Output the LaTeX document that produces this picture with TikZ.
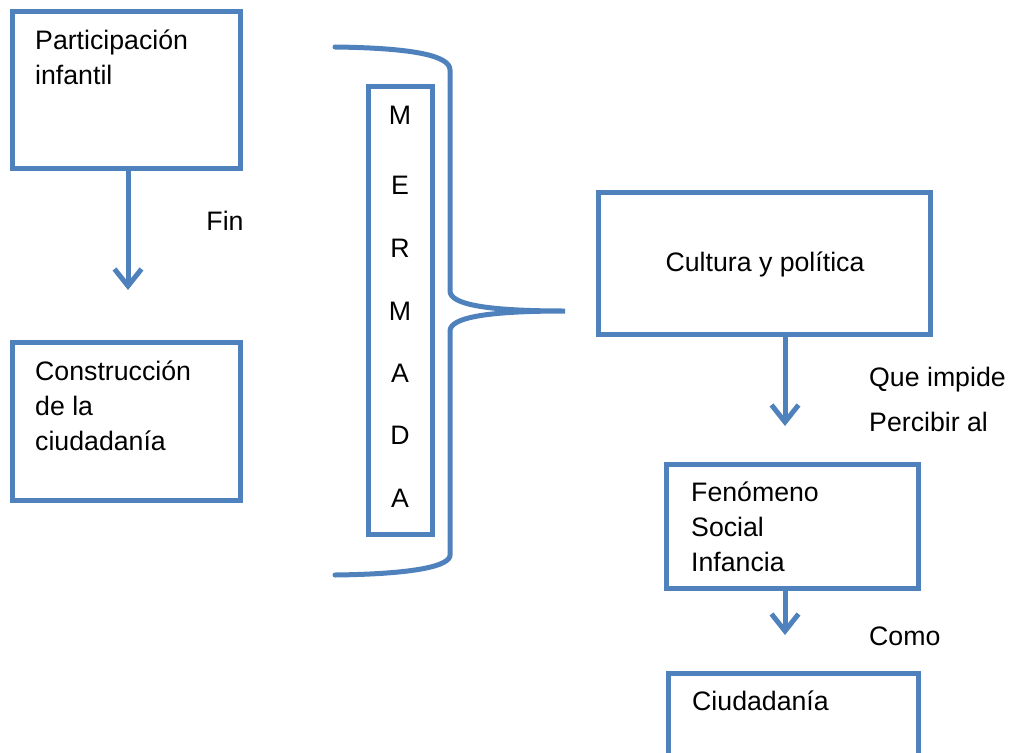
\documentclass[tikz,border=0pt]{standalone}
\usepackage{fontspec}
\setmainfont{Liberation Sans}
\usetikzlibrary{arrows.meta}
\definecolor{boxblue}{HTML}{4F81BD}
\begin{document}
\begin{tikzpicture}[x=1pt,y=-1pt,
  box/.style={draw=boxblue,line width=5pt},
  conn/.style={draw=boxblue,line width=5pt,-{Straight Barb[length=17pt,width=27pt,line width=5pt]}},
  txt/.style={anchor=base west,inner sep=0pt,font=\fontsize{26.7}{34}\selectfont},
  ctxt/.style={anchor=base,inner sep=0pt,font=\fontsize{26.7}{34}\selectfont}]
\useasboundingbox (0,0) rectangle (1011,752);
% boxes
\draw[box] (12,12) rectangle (240,168);
\node[inner sep=0pt,minimum width=228pt,minimum height=156pt] (pi) at (126,90) {};
\node[txt] (pit1) at (35,50) {Participación};
\node[txt] (pit2) at (35,84) {infantil};

\node[inner sep=0pt,minimum width=228pt,minimum height=158pt] (cc) at (126,421) {};
\draw[box] (12,342) rectangle (240,500);
\node[txt] (cct1) at (35,380) {Construcción};
\node[txt] (cct2) at (35,415) {de la};
\node[txt] (cct3) at (35,450) {ciudadanía};

\draw[box] (368,86) rectangle (432,534);
\foreach \l/\y [count=\i] in {M/124.5,E/194.5,R/257.5,M/320.5,A/382.5,D/444.5,A/507.5}
  \node[ctxt] (mer\i) at (400,\y) {\l};

% brace
\draw[draw=boxblue,line width=5pt,line cap=round]
  (335,47) .. controls (415,48) and (450,56) .. (450,70)
  -- (450,291) .. controls (450,305) and (490,311) .. (565,311)
  coordinate (bracetip)
  .. controls (490,311) and (450,317) .. (450,331)
  -- (450,555) .. controls (450,566) and (415,574) .. (335,575);

\node[inner sep=0pt,minimum width=332pt,minimum height=142pt] (cp) at (764,263) {};
\draw[box] (598,192) rectangle (930,334);
\node[ctxt] (cpt) at (765,271) {Cultura y política};

\node[inner sep=0pt,minimum width=252pt,minimum height=124pt] (fs) at (792,526) {};
\draw[box] (666,464) rectangle (918,588);
\node[txt] (fst1) at (691,501) {Fenómeno};
\node[txt] (fst2) at (691,536) {Social};
\node[txt] (fst3) at (691,571) {Infancia};

\draw[box] (668,673) rectangle (918,770);
\node[inner sep=0pt,minimum width=250pt,minimum height=97pt] (ci) at (793,721.5) {};
\node[txt] (cit) at (692,710) {Ciudadanía};

% arrows
\coordinate (a1) at (128,290);
\draw[conn] (pi.south -| a1) -- (a1);
\node[ctxt] (fin) at (225,230) {Fin};

\coordinate (a2) at (785,426);
\draw[conn] (cp.south -| a2) -- (a2);
\node[txt] (qi) at (869,386) {Que impide};
\node[txt] (pa) at (869,431) {Percibir al};

\coordinate (a3) at (785,635);
\draw[conn] (fs.south -| a3) -- (a3);
\node[txt] (como) at (869,645) {Como};
\end{tikzpicture}
\end{document}
